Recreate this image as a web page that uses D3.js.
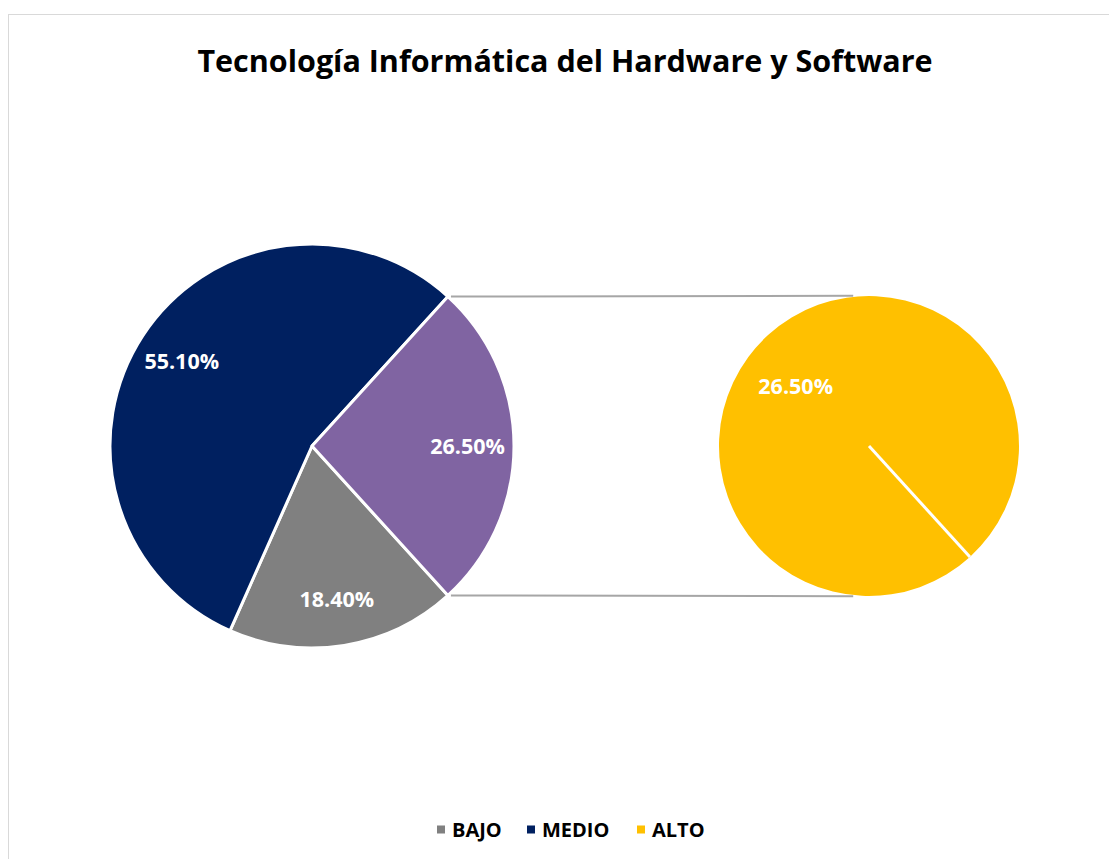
<!DOCTYPE html>
<html>
<head>
<meta charset="utf-8">
<script src="https://cdn.jsdelivr.net/npm/d3@7"></script>
<style>
  body { margin: 0; background: #fff; }
  text { font-family: "Open Sans", "Liberation Sans", sans-serif; font-weight: bold; }
</style>
</head>
<body>
<svg width="1109" height="859"></svg>
<script>
// data
const title = "Tecnología Informática del Hardware y Software";
const categories = ["BAJO", "MEDIO", "ALTO"];
const values = [18.4, 55.1, 26.5];
const colors = ["#808080", "#002060", "#FFC000"];
const otherColor = "#8064A2";
const labels = ["18.40%", "55.10%", "26.50%"];

const svg = d3.select("svg");

// chart border
svg.append("rect")
  .attr("x", 8.5).attr("y", 14.5)
  .attr("width", 1120).attr("height", 860)
  .attr("fill", "none").attr("stroke", "#d9d9d9");

svg.append("text")
  .attr("x", 565).attr("y", 72)
  .attr("text-anchor", "middle")
  .attr("font-size", 30.5)
  .attr("fill", "#000")
  .text(title);

// primary pie: BAJO, MEDIO and the "other" slice (ALTO)
const primary = [
  {name: "BAJO", value: values[0], color: colors[0], label: labels[0]},
  {name: "MEDIO", value: values[1], color: colors[1], label: labels[1]},
  {name: "Otro", value: values[2], color: otherColor, label: labels[2]}
];

const otherAngle = values[2] / d3.sum(values) * 2 * Math.PI;
const start = Math.PI / 2 + otherAngle / 2; // other slice centred at 3 o'clock

const pie = d3.pie().sort(null).value(d => d.value)
  .startAngle(start).endAngle(start + 2 * Math.PI);

const c1 = {x: 312, y: 446, r: 202};
const c2 = {x: 869, y: 446, r: 150};

const arc1 = d3.arc().innerRadius(0).outerRadius(c1.r);
const g1 = svg.append("g").attr("transform", `translate(${c1.x},${c1.y})`);
const arcs1 = pie(primary);

g1.selectAll("path").data(arcs1).enter().append("path")
  .attr("d", arc1)
  .attr("fill", d => d.data.color)
  .attr("stroke", "#fff").attr("stroke-width", 3)
  .attr("stroke-linejoin", "round");

const lab1 = d3.arc().innerRadius(c1.r * 0.77).outerRadius(c1.r * 0.77);
g1.selectAll("text").data(arcs1).enter().append("text")
  .attr("transform", d => `translate(${lab1.centroid(d)})`)
  .attr("text-anchor", "middle").attr("dy", "0.35em")
  .attr("font-size", 21.5).attr("fill", "#fff")
  .text(d => d.data.label);

// connector lines (top edge of "other" slice is its startAngle)
const otherArc = arcs1[2];
const pt = (c, a, r) => [c.x + r * Math.sin(a), c.y - r * Math.cos(a)];
const pTop1 = pt(c1, otherArc.startAngle, c1.r);
const pBot1 = pt(c1, otherArc.endAngle, c1.r);
const off = 6 * Math.PI / 180;
const pTop2 = pt(c2, -off, c2.r + 1);
const pBot2 = pt(c2, Math.PI + off, c2.r + 1);
svg.append("line")
  .attr("x1", pTop1[0] + 3).attr("y1", pTop1[1]).attr("x2", pTop2[0]).attr("y2", pTop2[1])
  .attr("stroke", "#a6a6a6").attr("stroke-width", 2);
svg.append("line")
  .attr("x1", pBot1[0] + 3).attr("y1", pBot1[1]).attr("x2", pBot2[0]).attr("y2", pBot2[1])
  .attr("stroke", "#a6a6a6").attr("stroke-width", 2);

// secondary pie: ALTO only, boundary at the bottom edge angle
const a0 = otherArc.endAngle - 2 * Math.PI;
const secondary = [{name: "ALTO", value: values[2], color: colors[2], label: labels[2]}];
const pie2 = d3.pie().sort(null).value(d => d.value)
  .startAngle(a0).endAngle(a0 + 2 * Math.PI);
const arcs2 = pie2(secondary);
const arc2 = d3.arc().innerRadius(0).outerRadius(c2.r);
const g2 = svg.append("g").attr("transform", `translate(${c2.x},${c2.y})`);
g2.selectAll("path").data(arcs2).enter().append("path")
  .attr("d", arc2)
  .attr("fill", d => d.data.color);
// slice boundary
g2.selectAll("line.edge").data(arcs2).enter().append("line")
  .attr("class", "edge")
  .attr("x1", 0).attr("y1", 0)
  .attr("x2", d => c2.r * Math.sin(d.startAngle))
  .attr("y2", d => -c2.r * Math.cos(d.startAngle))
  .attr("stroke", "#fff").attr("stroke-width", 3);

g2.selectAll("text").data(arcs2).enter().append("text")
  .attr("x", d => c2.r * 0.63 * Math.sin((d.startAngle + d.endAngle) / 2 - 0.15))
  .attr("y", d => -c2.r * 0.63 * Math.cos((d.startAngle + d.endAngle) / 2 - 0.15))
  .attr("text-anchor", "middle").attr("dy", "0.35em")
  .attr("font-size", 21.5).attr("fill", "#fff")
  .text(d => d.data.label);

// legend
const legendPos = {BAJO: 437, MEDIO: 527, ALTO: 637};
const lg = svg.append("g").selectAll("g").data(categories).enter().append("g")
  .attr("transform", d => `translate(${legendPos[d]},830)`);
lg.append("rect")
  .attr("x", 0).attr("y", -4.5).attr("width", 8).attr("height", 8)
  .attr("fill", (d, i) => colors[i]);
lg.append("text")
  .attr("x", 15).attr("dy", "0.35em")
  .attr("font-size", 20).attr("fill", "#000")
  .text(d => d);
</script>
</body>
</html>
